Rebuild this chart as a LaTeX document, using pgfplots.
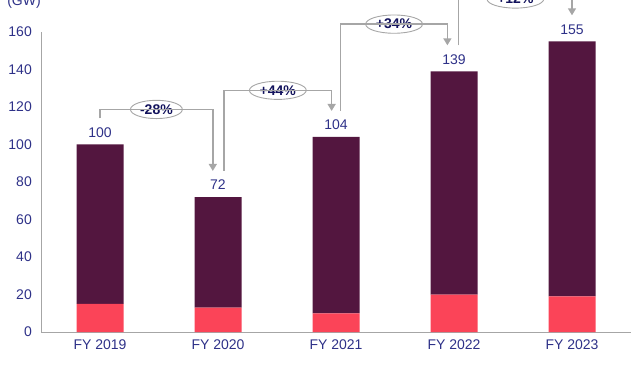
\documentclass[border=0pt]{standalone}
\usepackage{pgfplots}
\pgfplotsset{compat=1.18}
\usepackage{fontspec}
\setmainfont{Liberation Sans}
\usetikzlibrary{arrows.meta,shapes.geometric}
\definecolor{barred}{HTML}{FB4458}
\definecolor{barpurple}{HTML}{53163F}
\definecolor{navy}{HTML}{2E3188}
\definecolor{darknavy}{HTML}{12125C}
\definecolor{conn}{HTML}{A6A6A6}
\definecolor{axisgray}{HTML}{A6A6A6}
\begin{document}
\begin{tikzpicture}[font=\fontsize{14bp}{16bp}\selectfont,
  pct/.style={ellipse, draw=conn, line width=0.9bp, fill=white, inner xsep=2bp, inner ysep=1.5bp,
    minimum height=18bp, text=darknavy, font=\fontsize{14bp}{16bp}\selectfont\bfseries},
  val/.style={text=navy, anchor=south, inner sep=0pt, yshift=7bp},
  con/.style={draw=conn, line width=1.5bp, -{Triangle[width=8bp,length=7bp]}}]
\begin{axis}[
  width=590bp, height=300bp, scale only axis,
  xmin=-0.5, xmax=4.5, ymin=0, ymax=160,
  ybar stacked, bar width=47bp,
  axis x line*=bottom, axis y line*=left,
  axis line style={axisgray, line width=1bp},
  xtick={0,1,2,3,4},
  xticklabels={FY 2019,FY 2020,FY 2021,FY 2022,FY 2023},
  ytick={0,20,...,160},
  major tick length=0pt,
  /pgf/number format/assume math mode=true,
  tick label style={text=navy, font=\fontsize{14bp}{16bp}\selectfont},
  yticklabel style={anchor=east, inner sep=0pt, xshift=-9bp},
  xticklabel style={anchor=north, inner sep=0pt, yshift=-8bp},
  clip=false,
]
\addplot[fill=barred, draw=none] coordinates {(0,15) (1,13) (2,10) (3,20) (4,19)};
\addplot[fill=barpurple, draw=none] coordinates {(0,85) (1,59) (2,94) (3,119) (4,136)};

\coordinate (O) at (axis cs:-0.5,0);

\node[val] at (axis cs:0,100) {100};
\node[val] at (axis cs:1,72) {72};
\node[val] at (axis cs:2,104) {104};
\node[val] at (axis cs:3,139) {139};
\node[val] at (axis cs:4,155) {155};

\draw[con] (axis cs:0,113.9) |- (axis cs:0.956,118.7) -- (axis cs:0.956,85.9);
\node[pct] at (axis cs:0.478,118.7) {-28\%};
\draw[con] (axis cs:1.05,85.9) |- (axis cs:1.963,128.9) -- (axis cs:1.963,117.9);
\node[pct] at (axis cs:1.507,128.9) {+44\%};
\draw[con] (axis cs:2.04,117.9) |- (axis cs:2.944,164.2) -- (axis cs:2.944,152.9);
\node[pct] at (axis cs:2.492,164.2) {+34\%};
\draw[con] (axis cs:3.04,152.9) |- (axis cs:4.0,177.6) -- (axis cs:4.0,168.9);
\node[pct] at (axis cs:3.52,177.6) {+12\%};
\end{axis}
\node[text=navy, anchor=base] at ([shift={(-17bp,326bp)}]O) {(GW)};
\pgfresetboundingbox
\path[use as bounding box] ([shift={(-41bp,-40bp)}]O) rectangle ([shift={(599bp,332bp)}]O);
\end{tikzpicture}
\end{document}
